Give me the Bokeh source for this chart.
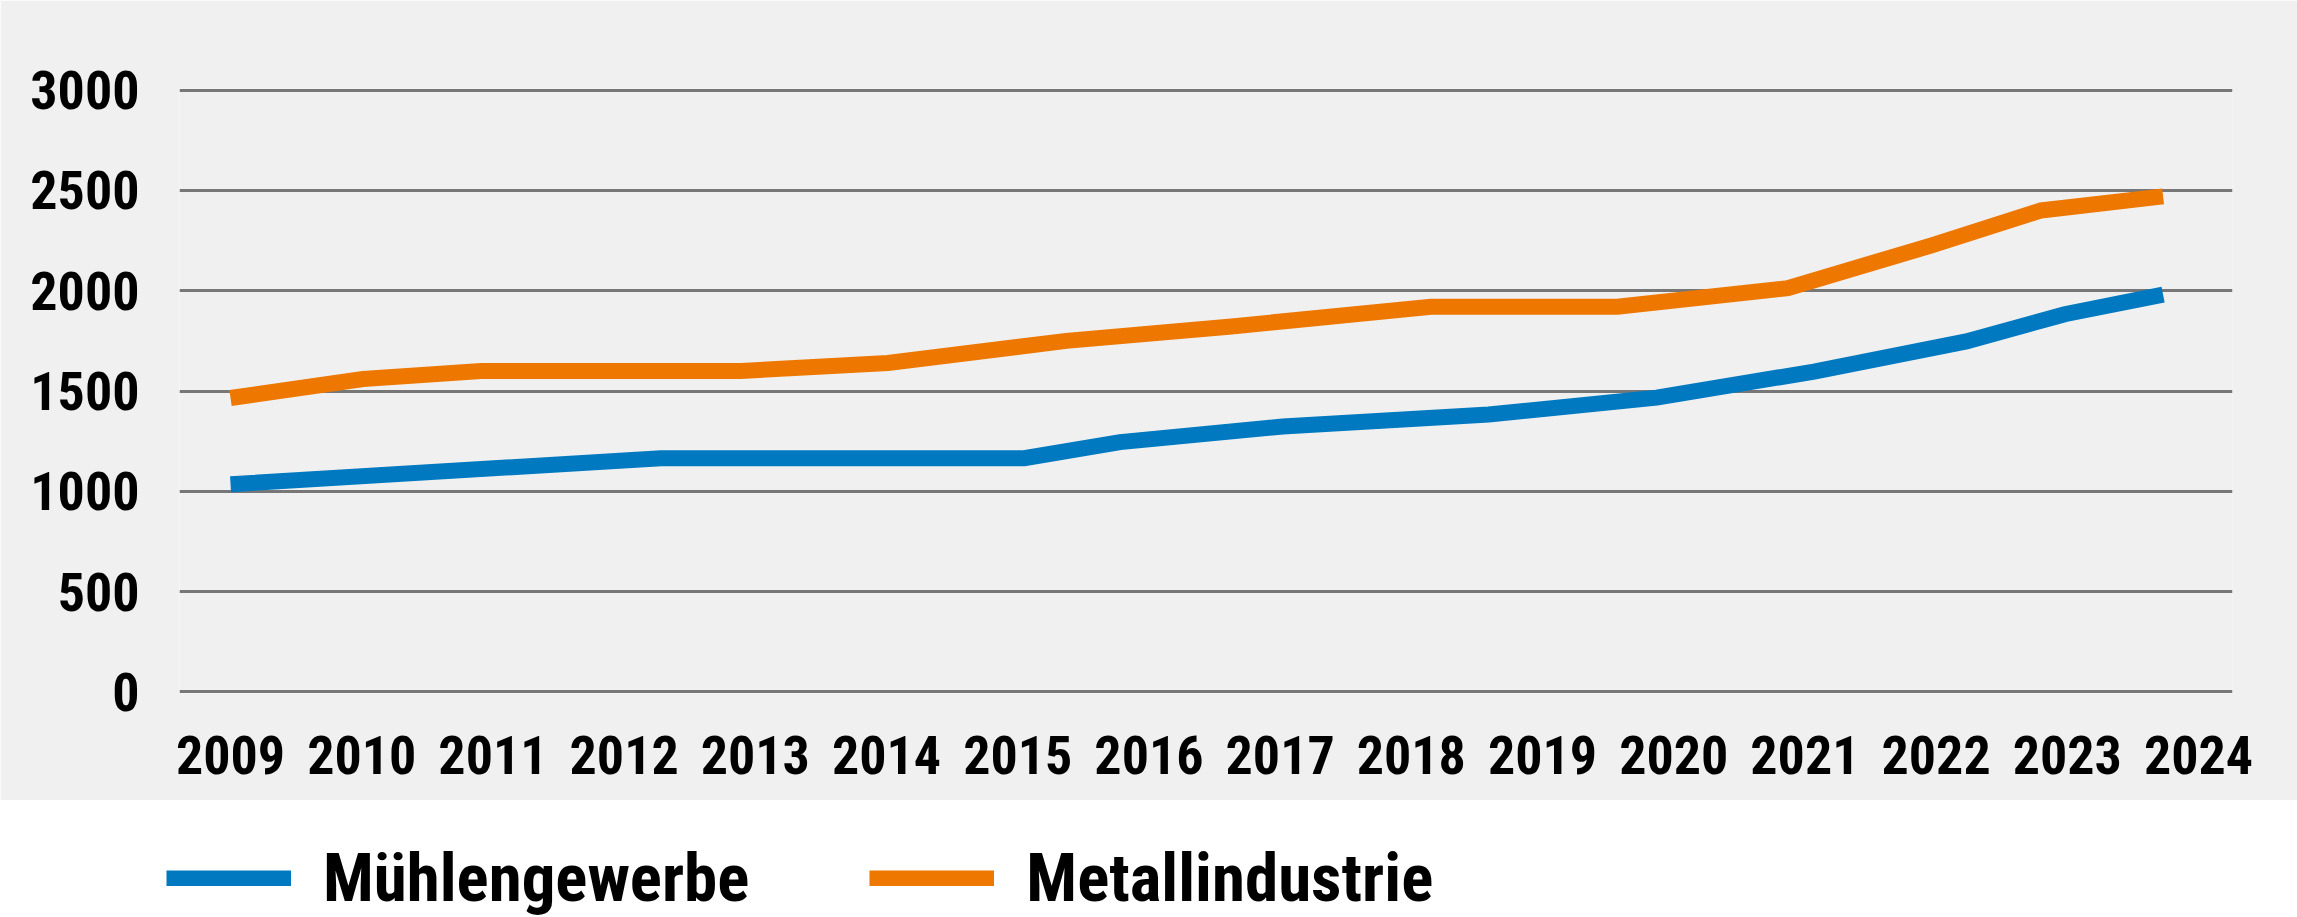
from bokeh.plotting import figure
from bokeh.models import Range1d, FixedTicker, Legend, LegendItem, ColumnDataSource
from bokeh.layouts import column, row
from bokeh.embed import file_html
from bokeh.resources import INLINE

# ---- data ----
years = [2009, 2010, 2011, 2012, 2013, 2014, 2015, 2016,
         2017, 2018, 2019, 2020, 2021, 2022, 2023, 2024]
y_ticks = [0, 500, 1000, 1500, 2000, 2500, 3000]

muehle_label = "Mühlengewerbe"
muehle_x = [2009.0, 2012.28, 2015.05, 2015.78, 2017.02, 2018.59,
            2019.87, 2021.07, 2022.23, 2022.98, 2023.73]
muehle_y = [1035, 1165, 1165, 1245, 1323, 1383,
            1467, 1597, 1747, 1883, 1980]

metall_label = "Metallindustrie"
metall_x = [2009.0, 2010.01, 2010.91, 2012.89, 2014.01, 2015.37, 2016.63,
            2018.15, 2019.57, 2020.87, 2021.96, 2022.80, 2023.73]
metall_y = [1465, 1560, 1600, 1600, 1640, 1750, 1822,
            1920, 1920, 2013, 2225, 2400, 2470]

# ---- styling ----
FONT = ("'Roboto Condensed', 'Noto Sans Condensed', 'Liberation Sans Narrow', "
        "'DejaVu Sans Condensed', 'Liberation Sans', sans-serif")
BG = "#F0F0F0"
BLUE = "#0079C1"
ORANGE = "#EE7700"
GRID = "#777777"
LW = 16

p = figure(width=2297, height=800,
           x_range=Range1d(2008.611, 2024.259), y_range=Range1d(-8, 3008),
           output_backend="svg", toolbar_location=None,
           min_border_left=179, min_border_right=65,
           min_border_top=88, min_border_bottom=107,
           background_fill_color=BG, border_fill_color=BG,
           outline_line_color=None)

p.line(muehle_x, muehle_y, line_width=LW, line_color=BLUE, line_join="miter")
p.line(metall_x, metall_y, line_width=LW, line_color=ORANGE, line_join="miter")

p.xaxis.ticker = FixedTicker(ticks=years)
p.yaxis.ticker = FixedTicker(ticks=y_ticks)
for ax in (p.xaxis, p.yaxis):
    ax.axis_line_color = None
    ax.major_tick_line_color = None
    ax.minor_tick_line_color = None
    ax.major_tick_out = 0
    ax.major_label_text_font = FONT
    ax.major_label_text_font_style = "bold"
    ax.major_label_text_color = "#000000"
    ax.major_label_text_font_size = "54px"
p.yaxis.major_label_standoff = 40
p.xaxis.major_label_standoff = 42

p.xgrid.visible = False
p.ygrid.ticker = FixedTicker(ticks=y_ticks)
p.ygrid.grid_line_color = GRID
p.ygrid.grid_line_width = 3

# ---- legend strip below ----
p2 = figure(width=2297, height=117, x_range=Range1d(0, 1), y_range=Range1d(0, 1),
            output_backend="svg", toolbar_location=None, min_border=0,
            outline_line_color=None, background_fill_color="white",
            border_fill_color="white")
p2.axis.visible = False
p2.grid.visible = False
nan = float("nan")
r1 = p2.line(x="x", y="y", source=ColumnDataSource(data=dict(x=[nan], y=[nan])),
             line_width=LW, line_color=BLUE)
r2 = p2.line(x="x", y="y", source=ColumnDataSource(data=dict(x=[nan], y=[nan])),
             line_width=LW, line_color=ORANGE)
legend = Legend(items=[LegendItem(label=muehle_label, renderers=[r1]),
                       LegendItem(label=metall_label, renderers=[r2])],
                orientation="horizontal", location=(166, 0),
                glyph_width=125, glyph_height=16, label_standoff=32,
                spacing=120, padding=0, margin=0,
                border_line_color=None, background_fill_alpha=0,
                label_text_font=FONT, label_text_font_style="bold",
                label_text_font_size="67px", label_text_color="#000000")
p2.add_layout(legend)

layout = column(p, row(p2), spacing=0)
open("out.html", "w").write(file_html(layout, INLINE))
